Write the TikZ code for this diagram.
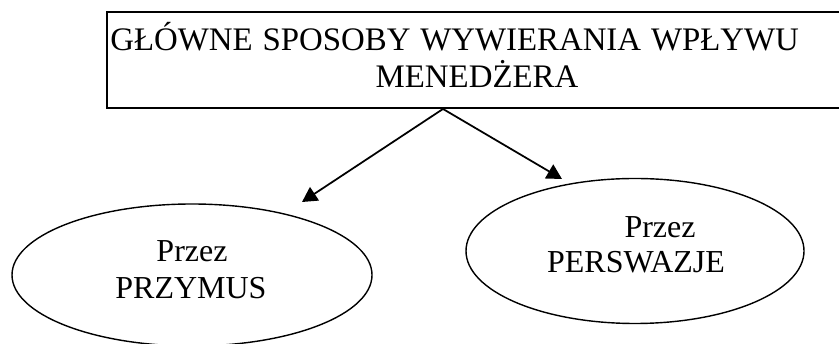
\documentclass[tikz,border=0pt]{standalone}
\usepackage{fontspec}
\setmainfont{Liberation Serif}
\usetikzlibrary{arrows.meta,shapes.geometric}

\begin{document}
\begin{tikzpicture}[font=\fontsize{18.2}{22}\selectfont]

        % Style dla ramki, owali, strzalek i napisow
        \tikzstyle{ramka}=[draw, line width=1.1pt, minimum width=15.2cm, minimum height=1.92cm, inner sep=0pt]
        \tikzstyle{owal}=[draw, ellipse, line width=0.8pt, inner sep=0pt]
        \tikzstyle{strzalka}=[line width=1pt, -{Triangle[length=0.3cm, width=0.32cm]}]
        \tikzstyle{napis}=[inner sep=0pt, anchor=base]
        \tikzstyle{tytulowy}=[napis, font=\fontsize{18.7}{22}\selectfont]

        % Obszar rysunku (prawy bok ramki wychodzi poza kadr)
        \useasboundingbox (0,0) rectangle (16.78, 6.88);

        % Ramka z tytulem
        \node[ramka] (tytul) at (9.74, 5.68) {};
        \node[tytulowy, anchor=base west] (tytul1) at (2.20, 5.86)
            {\spaceskip=0.3em GŁÓWNE SPOSOBY WYWIERANIA WPŁYWU};
        \node[tytulowy] (tytul2) at (9.54, 5.12) {MENEDŻERA};

        % Dwa owale ze sposobami
        \node[owal, minimum width=7.2cm, minimum height=2.84cm] (przymus) at (3.84, 1.38) {};
        \node[owal, minimum width=6.76cm, minimum height=2.90cm] (perswazja) at (12.70, 1.86) {};

        \node[napis] (przymus1) at (3.84, 1.64) {Przez};
        \node[napis] (przymus2) at (3.82, 0.90) {PRZYMUS};
        \node[napis] (perswazja1) at (13.20, 2.12) {Przez};
        \node[napis] (perswazja2) at (12.72, 1.42) {PERSWAZJE};

        % Konce strzalek (nad owalami)
        \coordinate (grotL) at (6.04, 2.84);
        \coordinate (grotP) at (11.24, 3.30);

        % Strzalki z dolnego boku ramki
        \draw[strzalka] ([xshift=-0.88cm]tytul.south) -- (grotL);
        \draw[strzalka] ([xshift=-0.88cm]tytul.south) -- (grotP);

\end{tikzpicture}
\end{document}
